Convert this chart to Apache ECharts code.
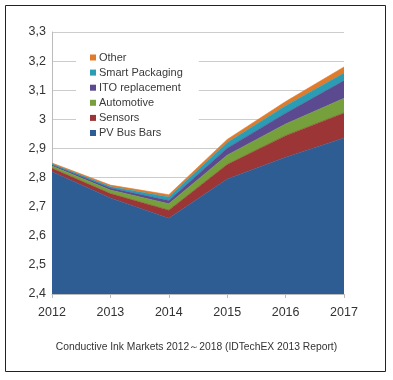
<!DOCTYPE html>
<html><head><meta charset="utf-8">
<script src="https://cdn.jsdelivr.net/npm/echarts@6/dist/echarts.min.js"></script>
<style>html,body{margin:0;padding:0;background:#fff}#c{width:393px;height:380px}</style>
</head><body><div id="c"></div>
<script>
const years = ['2012','2013','2014','2015','2016','2017'];
const pvBusBars = [2.82, 2.73, 2.66, 2.795, 2.87, 2.936];
const sensors = [0.012, 0.015, 0.028, 0.05, 0.074, 0.086];
const automotive = [0.008, 0.012, 0.022, 0.032, 0.04, 0.05];
const itoReplacement = [0.004, 0.007, 0.011, 0.024, 0.037, 0.061];
const smartPackaging = [0.003, 0.005, 0.012, 0.019, 0.026, 0.026];
const other = [0.003, 0.005, 0.008, 0.011, 0.014, 0.021];
const yTicks = ['2,4','2,5','2,6','2,7','2,8','2,9','3','3,1','3,2','3,3'];

const seriesDefs = [
  ['PV Bus Bars', pvBusBars, '#2e5d94'],
  ['Sensors', sensors, '#9c3535'],
  ['Automotive', automotive, '#76a03c'],
  ['ITO replacement', itoReplacement, '#5b4a90'],
  ['Smart Packaging', smartPackaging, '#2a9db5'],
  ['Other', other, '#e07b2b']
];
const chart = echarts.init(document.getElementById('c'));
chart.setOption({
  animation: false,
  graphic: [{type:'rect', shape:{x:5.5,y:5.5,width:380,height:366}, style:{fill:'none', stroke:'#222', lineWidth:1}, z:-1}],
  title: {text:'Conductive Ink Markets 2012～2018 (IDTechEX 2013 Report)', left:'center', top:337,
    textStyle:{fontSize:10.3, fontWeight:'normal', color:'#333', fontFamily:'Liberation Sans'}},
  grid: {left:52, right:49, top:32, bottom:86},
  legend: {
    data: seriesDefs.map(s=>s[0]).reverse(),
    orient:'vertical', left:76, top:48, itemWidth:6, itemHeight:6, itemGap:4.1,
    icon:'rect', backgroundColor:'#fff', padding:[4,16,4,14],
    textStyle:{fontSize:11, color:'#3a3a3a', fontFamily:'Liberation Sans', padding:[0,0,0,-2]}
  },
  xAxis: {type:'category', data:years, boundaryGap:false,
    axisLine:{lineStyle:{color:'#bbb'}}, axisTick:{show:true, lineStyle:{color:'#bbb'}, length:4},
    axisLabel:{fontSize:12.5, color:'#333', margin:12, fontFamily:'Liberation Sans'}},
  yAxis: {type:'value', min:2.4, max:3.3, interval:0.1,
    axisLine:{show:true, lineStyle:{color:'#bbb'}}, axisTick:{show:false},
    splitLine:{lineStyle:{color:'#ccc'}},
    axisLabel:{fontSize:12.5, color:'#333', margin:6, fontFamily:'Liberation Sans',
      formatter:(v)=>yTicks[Math.round((v-2.4)*10)]}},
  series: seriesDefs.map(s=>({
    name:s[0], type:'line', stack:'total', data:s[1], symbol:'none',
    lineStyle:{width:0.6, color:s[2]}, itemStyle:{color:s[2]},
    areaStyle:{color:s[2], opacity:1}
  }))
});
</script></body></html>
